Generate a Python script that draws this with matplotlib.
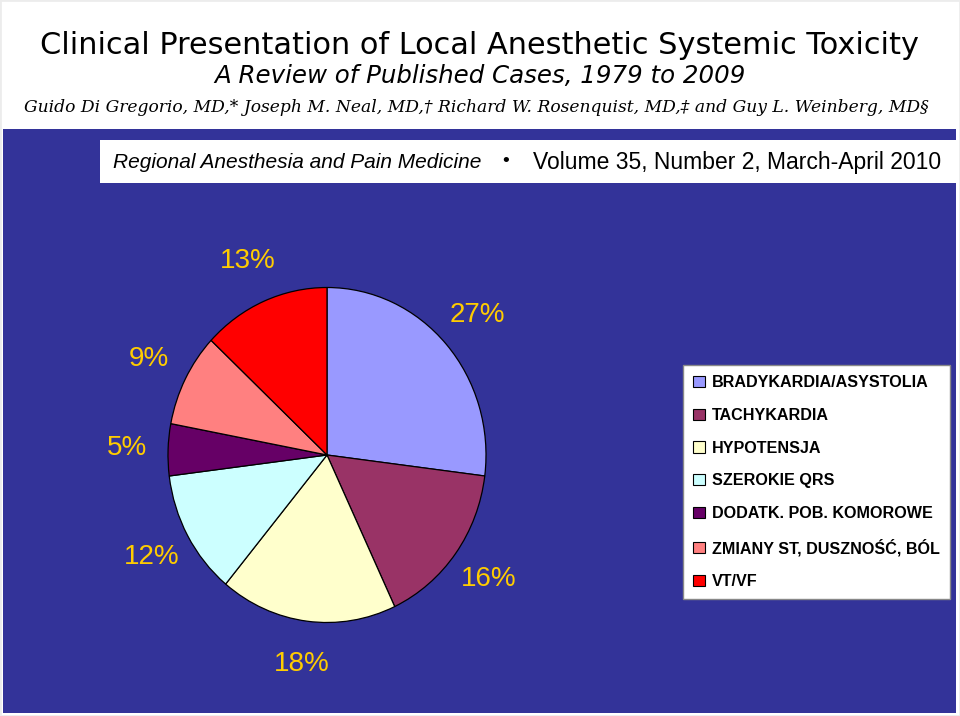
import matplotlib
matplotlib.use("Agg")
import matplotlib.pyplot as plt
from matplotlib.patches import Rectangle

# --> Chart data.
categories = [
    "BRADYKARDIA/ASYSTOLIA",
    "TACHYKARDIA",
    "HYPOTENSJA",
    "SZEROKIE QRS",
    "DODATK. POB. KOMOROWE",
    "ZMIANY ST, DUSZNOŚĆ, BÓL",
    "VT/VF",
]
shares = [27, 16, 18, 12, 5, 9, 13]
colors = ["#9999FF", "#993366", "#FFFFCC", "#CCFFFF", "#660066", "#FF8080", "#FF0000"]

title = "Clinical Presentation of Local Anesthetic Systemic Toxicity"
subtitle = "A Review of Published Cases, 1979 to 2009"
authors = ("Guido Di Gregorio, MD,* Joseph M. Neal, MD,\u2020 Richard W. Rosenquist, MD,\u2021 "
           "and Guy L. Weinberg, MD\u00a7")
journal = "Regional Anesthesia and Pain Medicine"
issue = "Volume 35, Number 2, March-April 2010"

W, H = 960, 716
BLUE = "#333399"
GOLD = "#FFCC00"


def fx(px):
    return px / W


def fy(py):
    return 1 - py / H


fig = plt.figure(figsize=(W / 100, H / 100), dpi=100, facecolor="white")
renderer = fig.canvas.get_renderer()


def fit(t, width_px):
    """Rescale a text so that it spans width_px pixels."""
    w = t.get_window_extent(renderer).width
    t.set_fontsize(t.get_fontsize() * width_px / w)
    return t


# --> Thin grey frame of the slide, blue background and white journal strip.
fig.patches.append(Rectangle((0, 0), 1, 1, transform=fig.transFigure,
                             facecolor="none", edgecolor="#ececec", linewidth=2, zorder=-3))
fig.patches.append(Rectangle((fx(3), fy(713)), fx(956) - fx(3), fy(129) - fy(713),
                             transform=fig.transFigure, facecolor=BLUE, edgecolor="none", zorder=-2))
fig.patches.append(Rectangle((fx(100), fy(183)), fx(956) - fx(100), fy(140) - fy(183),
                             transform=fig.transFigure, facecolor="white", edgecolor="none", zorder=-1))

# --> Header texts.
fit(fig.text(fx(479), fy(46), title, ha="center", va="center", fontsize=17,
             family="DejaVu Sans", color="black"), 882)
fit(fig.text(fx(480), fy(76), subtitle, ha="center", va="center", fontsize=14,
             family="DejaVu Sans", style="italic", color="black"), 534)
fit(fig.text(fx(476), fy(108), authors, ha="center", va="center", fontsize=11,
             family="DejaVu Serif", style="italic", color="black"), 905)
fit(fig.text(fx(113), fy(163), journal, ha="left", va="center", fontsize=14,
             family="Liberation Sans", style="italic", color="black"), 371)
fig.text(fx(506), fy(162), "\u2022", ha="center", va="center", fontsize=14,
         family="Liberation Sans", color="black")
fit(fig.text(fx(941), fy(163), issue, ha="right", va="center", fontsize=14,
             family="Liberation Sans", color="black"), 411)

# --> Pie (slightly taller than wide, as in the slide).
cx, cy, rx, ry = 327, 455, 159, 167.5
ax = fig.add_axes([fx(cx - rx), fy(cy + ry), (2 * rx) / W, (2 * ry) / H])
wedges, _, pcts = ax.pie(
    shares, colors=colors, startangle=90, counterclock=False,
    autopct="%.0f%%", pctdistance=1.26,
    wedgeprops=dict(edgecolor="black", linewidth=0.9),
    textprops=dict(color=GOLD, fontsize=20, family="Liberation Sans"),
)
ax.set_aspect("auto")
ax.set_xlim(-1, 1)
ax.set_ylim(-1, 1)
ax.axis("off")

# --> Legend box.
leg = fig.legend(
    wedges, categories, loc="upper left",
    bbox_to_anchor=(fx(683), fy(365)), bbox_transform=fig.transFigure,
    frameon=True, fancybox=False, framealpha=1, borderaxespad=0, borderpad=0.64,
    handlelength=0.7, handleheight=0.7, handletextpad=0.45, labelspacing=1.1,
    prop=dict(family="Liberation Sans", weight="bold", size=11.6),
)
leg.get_frame().set_edgecolor("#888888")
leg.get_frame().set_linewidth(1.0)
for h in leg.legend_handles:
    h.set_linewidth(0.8)

fig.savefig("out.png", dpi=100, facecolor=fig.get_facecolor())
